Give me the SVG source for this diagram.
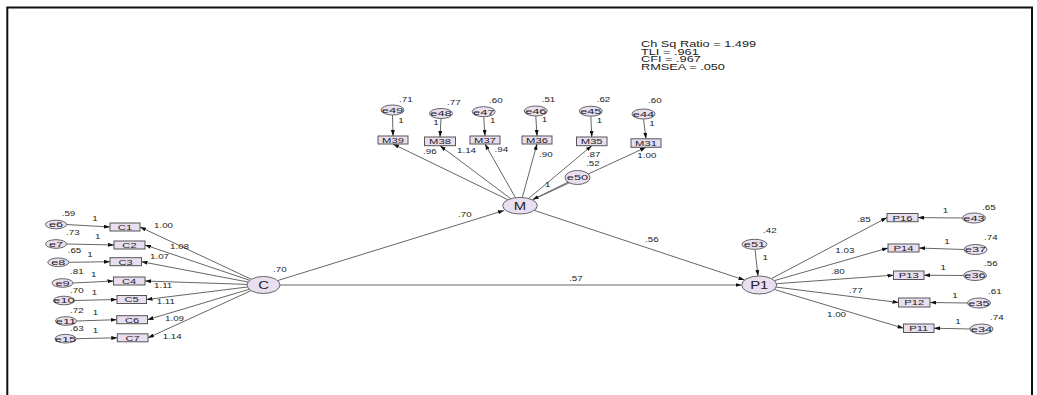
<svg xmlns="http://www.w3.org/2000/svg" width="1037" height="395" viewBox="0 0 1037 395">
<defs>
<marker id="ah" viewBox="0 0 6 4" refX="6" refY="2" markerWidth="6" markerHeight="4" orient="auto" markerUnits="userSpaceOnUse"><path d="M0,0 L6,2 L0,4 z" fill="#111"/></marker>
</defs>
<style>
text{font-family:"Liberation Sans",Arial,sans-serif;fill:#222}
.lb{font-size:7px}
.bx{font-size:8px;text-anchor:middle}
.el{font-size:8px;text-anchor:middle}
.nd{font-size:11px;text-anchor:middle}
.st{font-size:8.5px}
ellipse{fill:#eadff1;stroke:#666;stroke-width:1}
rect.b{fill:#e8def0;stroke:#555;stroke-width:1}
#connectors line{stroke:#666;stroke-width:1;marker-end:url(#ah)}
</style>
<rect x="7.3" y="7.5" width="1024.7" height="400" fill="none" stroke="#111" stroke-width="2"/>
<g id="fit">
<text class="st" transform="matrix(1.5 0 0 1 641 46.7)">Ch Sq Ratio = 1.499</text>
<text class="st" transform="matrix(1.5 0 0 1 641 54.5)">TLI = .961</text>
<text class="st" transform="matrix(1.5 0 0 1 641 62.3)">CFI = .967</text>
<text class="st" transform="matrix(1.5 0 0 1 641 70.3)">RMSEA = .050</text>
</g>
<g id="connectors">
<line x1="66.5" y1="224.5" x2="110" y2="227"/>
<line x1="66.5" y1="244" x2="114" y2="245"/>
<line x1="68.8" y1="262.3" x2="110" y2="261.7"/>
<line x1="73" y1="283" x2="113.5" y2="281"/>
<line x1="74.5" y1="300.5" x2="117" y2="299.5"/>
<line x1="76.5" y1="321" x2="116.7" y2="319.7"/>
<line x1="76" y1="338.7" x2="117.3" y2="337.8"/>
<line x1="251.3" y1="279.3" x2="140" y2="227"/>
<line x1="249.7" y1="280.3" x2="145" y2="245"/>
<line x1="248" y1="282" x2="141.5" y2="261.7"/>
<line x1="247" y1="284.4" x2="145" y2="281"/>
<line x1="247.4" y1="287" x2="146.5" y2="299.5"/>
<line x1="249.2" y1="289.3" x2="147.5" y2="319.7"/>
<line x1="251.2" y1="290.6" x2="148" y2="337.8"/>
<line x1="277.6" y1="280.6" x2="504" y2="210.5"/>
<line x1="280" y1="285" x2="741.5" y2="285"/>
<line x1="534.2" y1="210.4" x2="744.5" y2="280.1"/>
<line x1="507.9" y1="199.8" x2="393" y2="144"/>
<line x1="510.7" y1="198.7" x2="440" y2="145.7"/>
<line x1="515.5" y1="197.7" x2="485" y2="144"/>
<line x1="522.3" y1="197.5" x2="537" y2="144"/>
<line x1="528.6" y1="198.5" x2="591.8" y2="145.7"/>
<line x1="532.4" y1="199.9" x2="646" y2="147.3"/>
<line x1="392.5" y1="115" x2="393" y2="136"/>
<line x1="441" y1="118.5" x2="440" y2="137"/>
<line x1="483.7" y1="116.7" x2="485" y2="136"/>
<line x1="535.8" y1="116" x2="537" y2="136"/>
<line x1="590.8" y1="116.2" x2="591.8" y2="137"/>
<line x1="643.5" y1="119" x2="646" y2="138.8"/>
<line x1="755" y1="249.3" x2="758" y2="276"/>
<line x1="771.4" y1="278.6" x2="887" y2="217.6"/>
<line x1="774.5" y1="280.6" x2="888" y2="248"/>
<line x1="776.5" y1="283.7" x2="893.5" y2="275.2"/>
<line x1="776.2" y1="287.1" x2="898.5" y2="302.5"/>
<line x1="774.3" y1="289.5" x2="903.5" y2="328.2"/>
<line x1="962.5" y1="218" x2="918" y2="217.6"/>
<line x1="964" y1="249.5" x2="919" y2="248"/>
<line x1="963.5" y1="275.5" x2="924" y2="275.2"/>
<line x1="967.5" y1="303" x2="930" y2="302.5"/>
<line x1="970" y1="329" x2="934" y2="328.2"/>
</g>
<g id="e50"><line x1="568.1" y1="182.1" x2="532.6" y2="199.6" stroke="#666" marker-end="url(#ah)"/><ellipse cx="577.5" cy="177.5" rx="12.5" ry="7"/><text class="el" transform="matrix(1.6 0 0 1 577.5 180.4)">e50</text></g>
<g id="labels">
<text class="lb" transform="matrix(1.4 0 0 1 61.7 215.7)">.59</text>
<text class="lb" transform="matrix(1.4 0 0 1 66 235)">.73</text>
<text class="lb" transform="matrix(1.4 0 0 1 67.7 253.3)">.65</text>
<text class="lb" transform="matrix(1.4 0 0 1 70 274.3)">.81</text>
<text class="lb" transform="matrix(1.4 0 0 1 70 293.3)">.70</text>
<text class="lb" transform="matrix(1.4 0 0 1 70 313.3)">.72</text>
<text class="lb" transform="matrix(1.4 0 0 1 70 331)">.63</text>
<text class="lb" transform="matrix(1.4 0 0 1 92.3 220.7)">1</text>
<text class="lb" transform="matrix(1.4 0 0 1 95 239)">1</text>
<text class="lb" transform="matrix(1.4 0 0 1 87.3 256.7)">1</text>
<text class="lb" transform="matrix(1.4 0 0 1 91 276.7)">1</text>
<text class="lb" transform="matrix(1.4 0 0 1 91.7 295)">1</text>
<text class="lb" transform="matrix(1.4 0 0 1 92.7 315)">1</text>
<text class="lb" transform="matrix(1.4 0 0 1 92.7 332.7)">1</text>
<text class="lb" transform="matrix(1.4 0 0 1 154 228.3)">1.00</text>
<text class="lb" transform="matrix(1.4 0 0 1 170 249)">1.08</text>
<text class="lb" transform="matrix(1.4 0 0 1 150 259)">1.07</text>
<text class="lb" transform="matrix(1.4 0 0 1 154 287.7)">1.11</text>
<text class="lb" transform="matrix(1.4 0 0 1 156.7 304.3)">1.11</text>
<text class="lb" transform="matrix(1.4 0 0 1 165 321)">1.09</text>
<text class="lb" transform="matrix(1.4 0 0 1 162.7 339)">1.14</text>
<text class="lb" transform="matrix(1.4 0 0 1 273 271.7)">.70</text>
<text class="lb" transform="matrix(1.4 0 0 1 458 217.3)">.70</text>
<text class="lb" transform="matrix(1.4 0 0 1 569 280.7)">.57</text>
<text class="lb" transform="matrix(1.4 0 0 1 645 241.7)">.56</text>
<text class="lb" transform="matrix(1.4 0 0 1 399 101.7)">.71</text>
<text class="lb" transform="matrix(1.4 0 0 1 447 105)">.77</text>
<text class="lb" transform="matrix(1.4 0 0 1 489 103.3)">.60</text>
<text class="lb" transform="matrix(1.4 0 0 1 541.7 101.7)">.51</text>
<text class="lb" transform="matrix(1.4 0 0 1 596.7 101.7)">.62</text>
<text class="lb" transform="matrix(1.4 0 0 1 648 103.3)">.60</text>
<text class="lb" transform="matrix(1.4 0 0 1 398.3 123.3)">1</text>
<text class="lb" transform="matrix(1.4 0 0 1 433.3 125)">1</text>
<text class="lb" transform="matrix(1.4 0 0 1 490 123.3)">1</text>
<text class="lb" transform="matrix(1.4 0 0 1 541.7 122.3)">1</text>
<text class="lb" transform="matrix(1.4 0 0 1 596.7 123.3)">1</text>
<text class="lb" transform="matrix(1.4 0 0 1 649.3 125.7)">1</text>
<text class="lb" transform="matrix(1.4 0 0 1 423 153.5)">.96</text>
<text class="lb" transform="matrix(1.4 0 0 1 457 152.5)">1.14</text>
<text class="lb" transform="matrix(1.4 0 0 1 494.5 151.7)">.94</text>
<text class="lb" transform="matrix(1.4 0 0 1 539 157)">.90</text>
<text class="lb" transform="matrix(1.4 0 0 1 586.8 157)">.87</text>
<text class="lb" transform="matrix(1.4 0 0 1 637.3 157.5)">1.00</text>
<text class="lb" transform="matrix(1.4 0 0 1 586 165.8)">.52</text>
<text class="lb" transform="matrix(1.4 0 0 1 545 187.3)">1</text>
<text class="lb" transform="matrix(1.4 0 0 1 763 233.3)">.42</text>
<text class="lb" transform="matrix(1.4 0 0 1 762.5 259.7)">1</text>
<text class="lb" transform="matrix(1.4 0 0 1 857 221.7)">.85</text>
<text class="lb" transform="matrix(1.4 0 0 1 835.3 252.5)">1.03</text>
<text class="lb" transform="matrix(1.4 0 0 1 831 274.2)">.80</text>
<text class="lb" transform="matrix(1.4 0 0 1 849 292.5)">.77</text>
<text class="lb" transform="matrix(1.4 0 0 1 827 317.3)">1.00</text>
<text class="lb" transform="matrix(1.4 0 0 1 942.7 213.4)">1</text>
<text class="lb" transform="matrix(1.4 0 0 1 944.2 243.7)">1</text>
<text class="lb" transform="matrix(1.4 0 0 1 940.5 269.7)">1</text>
<text class="lb" transform="matrix(1.4 0 0 1 952.3 297.6)">1</text>
<text class="lb" transform="matrix(1.4 0 0 1 955.3 324.2)">1</text>
<text class="lb" transform="matrix(1.4 0 0 1 982 210)">.65</text>
<text class="lb" transform="matrix(1.4 0 0 1 984 240)">.74</text>
<text class="lb" transform="matrix(1.4 0 0 1 984 265.5)">.56</text>
<text class="lb" transform="matrix(1.4 0 0 1 988 293.5)">.61</text>
<text class="lb" transform="matrix(1.4 0 0 1 990 319.5)">.74</text>
</g>
<g id="C"><ellipse cx="263.5" cy="285" rx="16.5" ry="8.5"/><text class="nd" transform="matrix(1.35 0 0 1 263.5 289)">C</text></g>
<g id="M"><ellipse cx="520" cy="205.7" rx="17.3" ry="8.3"/><text class="nd" transform="matrix(1.35 0 0 1 520 209.7)">M</text></g>
<g id="P1"><ellipse cx="759.2" cy="285" rx="17.5" ry="9"/><text class="nd" transform="matrix(1.35 0 0 1 759.2 289)">P1</text></g>
<g id="e51"><ellipse cx="754.5" cy="244.3" rx="12.5" ry="5"/><text class="el" transform="matrix(1.6 0 0 1 754.5 247.2)">e51</text></g>
<g id="C1"><rect class="b" x="110" y="223" width="30" height="8"/><text class="bx" transform="matrix(1.4 0 0 1 125 229.9)">C1</text></g>
<g id="C2"><rect class="b" x="114" y="241" width="31" height="8"/><text class="bx" transform="matrix(1.4 0 0 1 129.5 247.9)">C2</text></g>
<g id="C3"><rect class="b" x="110" y="257.7" width="31.5" height="8"/><text class="bx" transform="matrix(1.4 0 0 1 125.7 264.6)">C3</text></g>
<g id="C4"><rect class="b" x="113.5" y="277" width="31.5" height="8"/><text class="bx" transform="matrix(1.4 0 0 1 129.2 283.9)">C4</text></g>
<g id="C5"><rect class="b" x="117" y="295.5" width="29.5" height="8"/><text class="bx" transform="matrix(1.4 0 0 1 131.7 302.4)">C5</text></g>
<g id="C6"><rect class="b" x="116.7" y="315.7" width="30.8" height="8"/><text class="bx" transform="matrix(1.4 0 0 1 132.1 322.6)">C6</text></g>
<g id="C7"><rect class="b" x="117.3" y="333.8" width="30.7" height="8"/><text class="bx" transform="matrix(1.4 0 0 1 132.6 340.7)">C7</text></g>
<g id="e6"><ellipse cx="56" cy="224.5" rx="10.5" ry="4.3"/><text class="el" transform="matrix(1.6 0 0 1 56 227.4)">e6</text></g>
<g id="e7"><ellipse cx="56" cy="244" rx="10.5" ry="4.3"/><text class="el" transform="matrix(1.6 0 0 1 56 246.9)">e7</text></g>
<g id="e8"><ellipse cx="58.3" cy="262.3" rx="10.5" ry="4.3"/><text class="el" transform="matrix(1.6 0 0 1 58.3 265.2)">e8</text></g>
<g id="e9"><ellipse cx="62.5" cy="283" rx="10.5" ry="4.3"/><text class="el" transform="matrix(1.6 0 0 1 62.5 285.9)">e9</text></g>
<g id="e10"><ellipse cx="64" cy="300.5" rx="10.5" ry="4.3"/><text class="el" transform="matrix(1.6 0 0 1 64 303.4)">e10</text></g>
<g id="e11"><ellipse cx="66" cy="321" rx="10.5" ry="4.3"/><text class="el" transform="matrix(1.6 0 0 1 66 323.9)">e11</text></g>
<g id="e15"><ellipse cx="65.5" cy="338.7" rx="10.5" ry="4.3"/><text class="el" transform="matrix(1.6 0 0 1 65.5 341.6)">e15</text></g>
<g id="M39"><rect class="b" x="378" y="136" width="30" height="8"/><text class="bx" transform="matrix(1.4 0 0 1 393 142.9)">M39</text></g>
<g id="M38"><rect class="b" x="424.5" y="137" width="31" height="8.7"/><text class="bx" transform="matrix(1.4 0 0 1 440 144.2)">M38</text></g>
<g id="M37"><rect class="b" x="470" y="136" width="30" height="8"/><text class="bx" transform="matrix(1.4 0 0 1 485 142.9)">M37</text></g>
<g id="M36"><rect class="b" x="522" y="136" width="30" height="8"/><text class="bx" transform="matrix(1.4 0 0 1 537 142.9)">M36</text></g>
<g id="M35"><rect class="b" x="576.5" y="137" width="30.5" height="8.7"/><text class="bx" transform="matrix(1.4 0 0 1 591.7 144.2)">M35</text></g>
<g id="M31"><rect class="b" x="631" y="138.8" width="30" height="8.5"/><text class="bx" transform="matrix(1.4 0 0 1 646 145.9)">M31</text></g>
<g id="e49"><ellipse cx="392.5" cy="110" rx="11.5" ry="5"/><text class="el" transform="matrix(1.6 0 0 1 392.5 112.9)">e49</text></g>
<g id="e48"><ellipse cx="441" cy="113.5" rx="11.5" ry="5"/><text class="el" transform="matrix(1.6 0 0 1 441 116.4)">e48</text></g>
<g id="e47"><ellipse cx="483.7" cy="111.7" rx="11.5" ry="5"/><text class="el" transform="matrix(1.6 0 0 1 483.7 114.6)">e47</text></g>
<g id="e46"><ellipse cx="535.8" cy="111" rx="11.5" ry="5"/><text class="el" transform="matrix(1.6 0 0 1 535.8 113.9)">e46</text></g>
<g id="e45"><ellipse cx="590.8" cy="111.2" rx="11.5" ry="5"/><text class="el" transform="matrix(1.6 0 0 1 590.8 114.1)">e45</text></g>
<g id="e44"><ellipse cx="643.5" cy="114" rx="11.5" ry="5"/><text class="el" transform="matrix(1.6 0 0 1 643.5 116.9)">e44</text></g>
<g id="P16"><rect class="b" x="887" y="213.5" width="31" height="8.2"/><text class="bx" transform="matrix(1.4 0 0 1 902.5 220.5)">P16</text></g>
<g id="P14"><rect class="b" x="888" y="244" width="31" height="8"/><text class="bx" transform="matrix(1.4 0 0 1 903.5 250.9)">P14</text></g>
<g id="P13"><rect class="b" x="893.5" y="271" width="30.5" height="8.5"/><text class="bx" transform="matrix(1.4 0 0 1 908.7 278.1)">P13</text></g>
<g id="P12"><rect class="b" x="898.5" y="298" width="31.5" height="9"/><text class="bx" transform="matrix(1.4 0 0 1 914.2 305.4)">P12</text></g>
<g id="P11"><rect class="b" x="903.5" y="324" width="30.5" height="8.5"/><text class="bx" transform="matrix(1.4 0 0 1 918.7 331.1)">P11</text></g>
<g id="e43"><ellipse cx="974" cy="218" rx="11.5" ry="5"/><text class="el" transform="matrix(1.6 0 0 1 974 220.9)">e43</text></g>
<g id="e37"><ellipse cx="975.5" cy="249.5" rx="11.5" ry="5"/><text class="el" transform="matrix(1.6 0 0 1 975.5 252.4)">e37</text></g>
<g id="e36"><ellipse cx="975" cy="275.5" rx="11.5" ry="5"/><text class="el" transform="matrix(1.6 0 0 1 975 278.4)">e36</text></g>
<g id="e35"><ellipse cx="979" cy="303" rx="11.5" ry="5"/><text class="el" transform="matrix(1.6 0 0 1 979 305.9)">e35</text></g>
<g id="e34"><ellipse cx="981.5" cy="329" rx="11.5" ry="5"/><text class="el" transform="matrix(1.6 0 0 1 981.5 331.9)">e34</text></g>
</svg>
